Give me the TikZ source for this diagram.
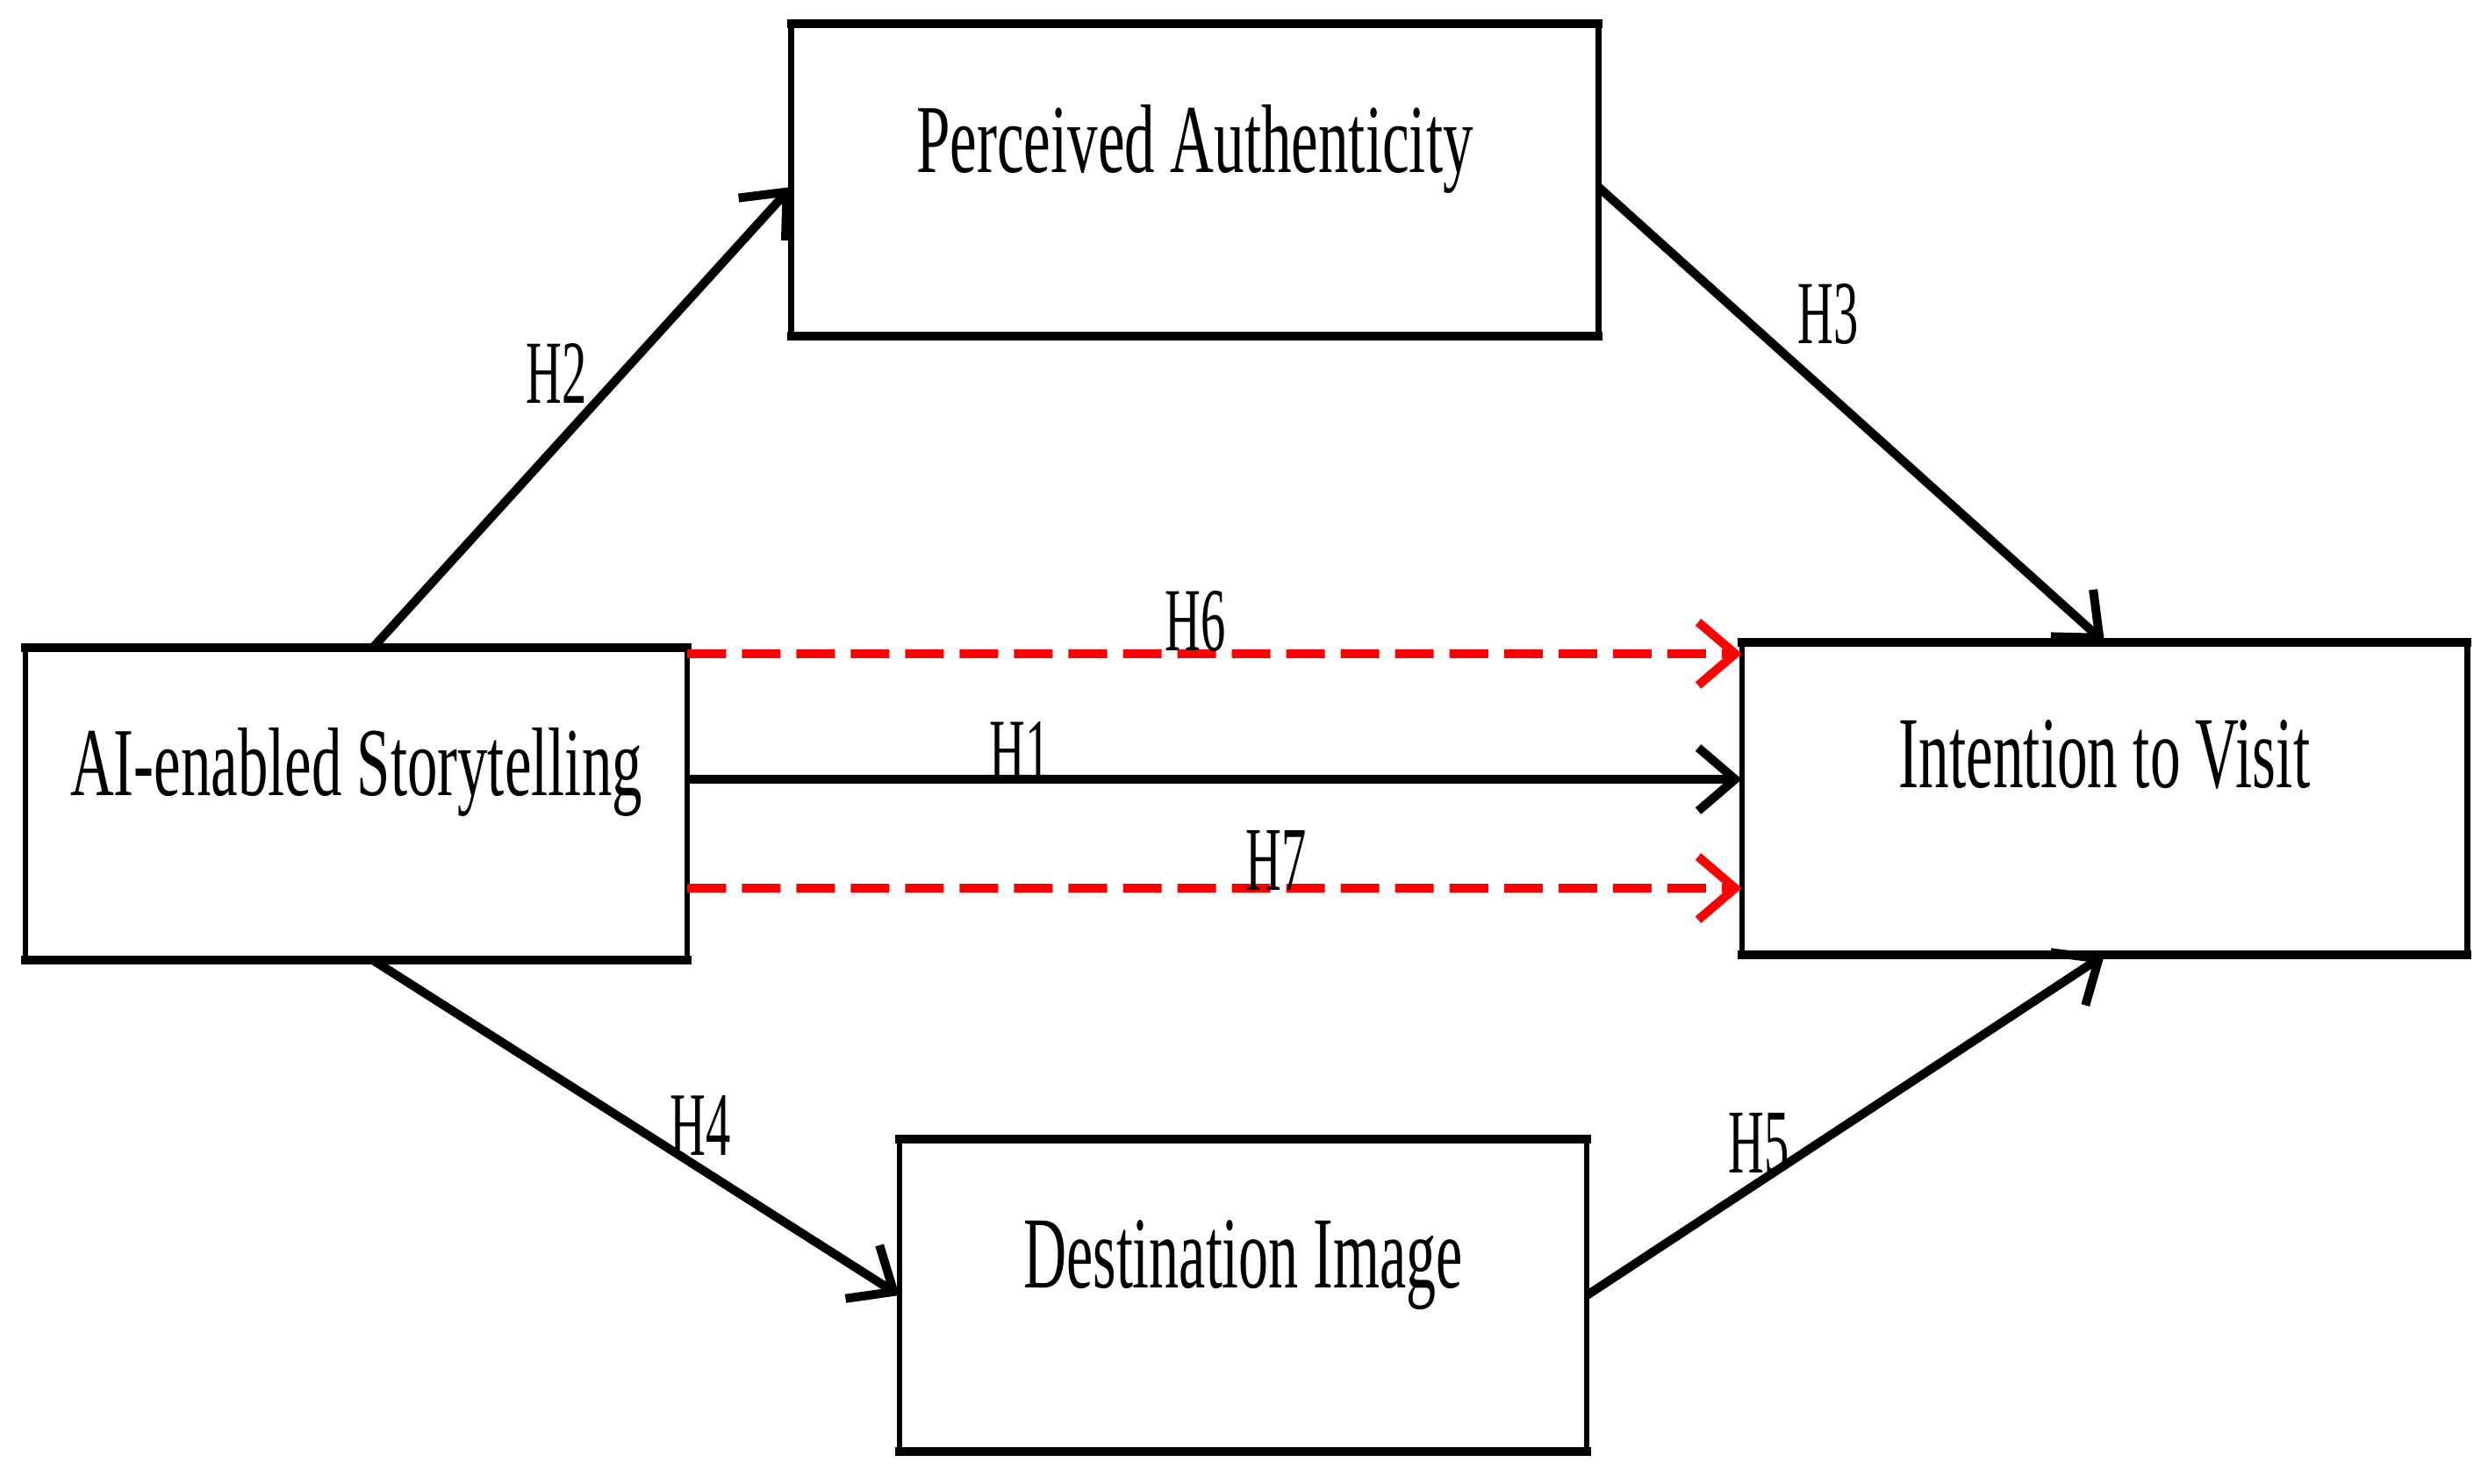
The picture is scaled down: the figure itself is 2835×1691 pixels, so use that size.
\documentclass[tikz,border=0pt]{standalone}
\usepackage{fontspec}
\setmainfont{Liberation Serif}
\usepackage{graphicx}
\usetikzlibrary{arrows.meta}
\newcommand\mytxt[2]{\resizebox{#1}{0.77cm}{#2}}
\newcommand\mylab[1]{\resizebox{0.69cm}{0.68cm}{#1}}
\begin{document}
\begin{tikzpicture}[x=0.01cm,y=-0.01cm,
  box/.style={draw, line width=0.065cm, minimum width=#1, minimum height=3.56cm, inner sep=0pt, outer sep=0pt},
  edge/.style={line width=0.1cm, line cap=rect},
  btext/.style={anchor=base, inner sep=0pt},
  hlab/.style={inner sep=0pt},
  arr/.style={line width=0.1cm, -{Straight Barb[length=0.42cm,width=0.72cm]}},
  redarr/.style={arr, draw=red, dash pattern=on 0.44cm off 0.18cm}]
\useasboundingbox (0,0) rectangle (2835,1691);

% boxes
\node[box=7.54cm] (AI) at (406,916) {};
\node[box=9.19cm] (PA) at (1361.5,205) {};
\node[box=8.26cm] (IV) at (2398,910) {};
\node[box=7.83cm] (DI) at (1416.5,1476) {};
\foreach \n in {AI,PA,IV,DI}
  \draw[edge] (\n.north west) -- (\n.north east) (\n.south west) -- (\n.south east);

% box texts
\node[btext] (AIt) at ([yshift=0.09cm]AI.center) {\mytxt{6.51cm}{AI-enabled Storytelling}};
\node[btext] (PAt) at ([yshift=0.08cm]PA.center) {\mytxt{6.34cm}{Perceived Authenticity}};
\node[btext] (IVt) at ([yshift=0.12cm]IV.center) {\mytxt{4.68cm}{Intention to Visit}};
\node[btext] (DIt) at ([yshift=0.09cm]DI.center) {\mytxt{5.00cm}{Destination Image}};

% connectors
\draw[arr] ([xshift=0.19cm]AI.north) -- ([yshift=-0.08cm]PA.west);
\draw[arr] ([yshift=-0.08cm]PA.east) -- (IV.north);
\draw[arr] ([yshift=0.28cm]AI.east) -- ([yshift=0.22cm]IV.west);
\draw[redarr] ([yshift=-0.07cm]AI.north east) -- ([yshift=-0.13cm]IV.north west);
\draw[redarr] ([yshift=-0.96cm]AI.east) -- ([yshift=-1.02cm]IV.west);
\draw[arr] ([xshift=0.19cm]AI.south) -- (DI.west);
\draw[arr] (DI.east) -- (IV.south);

% labels
\node[hlab] (H2) at (634,425) {\mylab{H2}};
\node[hlab] (H3) at (2083,358) {\mylab{H3}};
\node[hlab] (H6) at (1362,708) {\mylab{H6}};
\node[hlab] (H1) at (1162,856) {\mylab{H1}};
\node[hlab] (H7) at (1454,980) {\mylab{H7}};
\node[hlab] (H4) at (798,1282) {\mylab{H4}};
\node[hlab] (H5) at (2004,1303) {\mylab{H5}};
\end{tikzpicture}
\end{document}
